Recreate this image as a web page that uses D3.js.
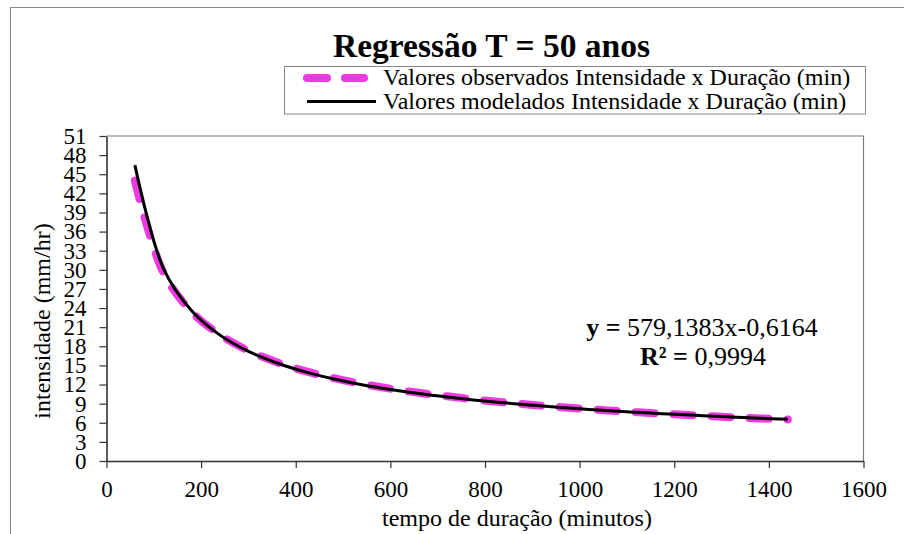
<!DOCTYPE html>
<html>
<head>
<meta charset="utf-8">
<script src="https://cdn.jsdelivr.net/npm/d3@7"></script>
<style>
  body { margin: 0; background: #fff; }
  svg text { font-family: "Liberation Serif", "Times New Roman", serif; fill: #000; }
</style>
</head>
<body>
<svg id="chart" width="904" height="534"></svg>
<script>
// Dados
var duracoes = [60, 120, 180, 240, 300, 360, 420, 480, 540, 600, 660, 720,
                780, 840, 900, 960, 1020, 1080, 1140, 1200, 1260, 1320, 1380, 1440];
var observados = [44.0, 29.6, 23.4, 19.8, 17.3, 15.5, 14.1, 13.0, 12.1, 11.35, 10.7, 10.15,
                  9.65, 9.2, 8.8, 8.45, 8.12, 7.84, 7.57, 7.32, 7.1, 6.88, 6.68, 6.5];
var modelados = [46.42, 30.28, 23.58, 19.75, 17.21, 15.38, 13.99, 12.88, 11.98, 11.23, 10.59, 10.04,
                 9.55, 9.13, 8.75, 8.40, 8.10, 7.82, 7.56, 7.32, 7.11, 6.91, 6.72, 6.55];
var xTicks = [0, 200, 400, 600, 800, 1000, 1200, 1400, 1600];
var yTicks = d3.range(0, 52, 3);

var svg = d3.select("#chart");

// moldura externa (cortada à direita e embaixo)
svg.append("rect")
    .attr("x", 10.5).attr("y", 7.5)
    .attr("width", 1000).attr("height", 1000)
    .attr("fill", "none").attr("stroke", "#8a8a8a");

var x = d3.scaleLinear().domain([0, 1600]).range([106.5, 863.5]);
var y = d3.scaleLinear().domain([0, 51]).range([461, 136]);

// borda da área do gráfico
svg.append("path")
    .attr("d", "M" + x(0) + "," + y(51) + "H" + x(1600) + "V" + y(0))
    .attr("fill", "none").attr("stroke", "#7a7a7a").attr("stroke-width", 1.2);

// eixos
var xAxis = svg.append("g")
    .attr("transform", "translate(0," + y(0) + ")")
    .call(d3.axisBottom(x).tickValues(xTicks).tickFormat(d3.format("d"))
        .tickSize(7).tickPadding(13).tickSizeOuter(0));
var yAxis = svg.append("g")
    .attr("transform", "translate(" + x(0) + ",0)")
    .call(d3.axisLeft(y).tickValues(yTicks).tickFormat(d3.format("d"))
        .tickSize(7).tickPadding(13).tickSizeOuter(0));

[xAxis, yAxis].forEach(function(a) {
    a.select(".domain").attr("stroke", "#333").attr("stroke-width", 1.6);
    a.selectAll(".tick line").attr("stroke", "#333").attr("stroke-width", 1.2);
    a.selectAll("text")
        .style("font-family", "'Liberation Serif', 'Times New Roman', serif")
        .style("font-size", "23px").attr("fill", "#000");
});

// séries
var linha = d3.line()
    .x(function(d, i) { return x(duracoes[i]); })
    .y(function(d) { return y(d); })
    .curve(d3.curveCatmullRom);

svg.append("path")
    .datum(observados)
    .attr("d", linha)
    .attr("fill", "none")
    .attr("stroke", "#ee3ae0")
    .attr("stroke-width", 8)
    .attr("stroke-linecap", "round")
    .attr("stroke-dasharray", "19,19");

svg.append("path")
    .datum(modelados)
    .attr("d", linha)
    .attr("fill", "none")
    .attr("stroke", "#000")
    .attr("stroke-width", 3);

// título
svg.append("text")
    .attr("x", 491.5).attr("y", 57)
    .attr("text-anchor", "middle")
    .style("font-size", "33.5px").style("font-weight", "bold")
    .text("Regressão T = 50 anos");

// legenda
var leg = svg.append("g");
leg.append("rect")
    .attr("x", 284.5).attr("y", 66.5)
    .attr("width", 581).attr("height", 47.5)
    .attr("fill", "#fff").attr("stroke", "#8a8a8a");
leg.append("line")
    .attr("x1", 307).attr("x2", 364).attr("y1", 78).attr("y2", 78)
    .attr("stroke", "#ee3ae0").attr("stroke-width", 8)
    .attr("stroke-linecap", "round").attr("stroke-dasharray", "20,18");
leg.append("line")
    .attr("x1", 307).attr("x2", 376).attr("y1", 101.5).attr("y2", 101.5)
    .attr("stroke", "#000").attr("stroke-width", 3);
leg.append("text").attr("x", 383).attr("y", 85)
    .style("font-size", "24px")
    .text("Valores observados Intensidade x Duração (min)");
leg.append("text").attr("x", 383).attr("y", 109)
    .style("font-size", "24px")
    .text("Valores modelados Intensidade x Duração (min)");

// equação
var eq = svg.append("text").attr("x", 702).attr("y", 336)
    .attr("text-anchor", "middle").style("font-size", "26px");
eq.append("tspan").style("font-weight", "bold").text("y = ");
eq.append("tspan").text("579,1383x-0,6164");
var r2 = svg.append("text").attr("x", 703).attr("y", 365)
    .attr("text-anchor", "middle").style("font-size", "26px");
r2.append("tspan").style("font-weight", "bold").text("R² = ");
r2.append("tspan").text("0,9994");

// títulos dos eixos
svg.append("text")
    .attr("x", 517).attr("y", 526)
    .attr("text-anchor", "middle").style("font-size", "24px")
    .text("tempo de duração (minutos)");
svg.append("text")
    .attr("transform", "translate(50,321) rotate(-90)")
    .attr("text-anchor", "middle").style("font-size", "24px")
    .text("intensidade (mm/hr)");
</script>
</body>
</html>
